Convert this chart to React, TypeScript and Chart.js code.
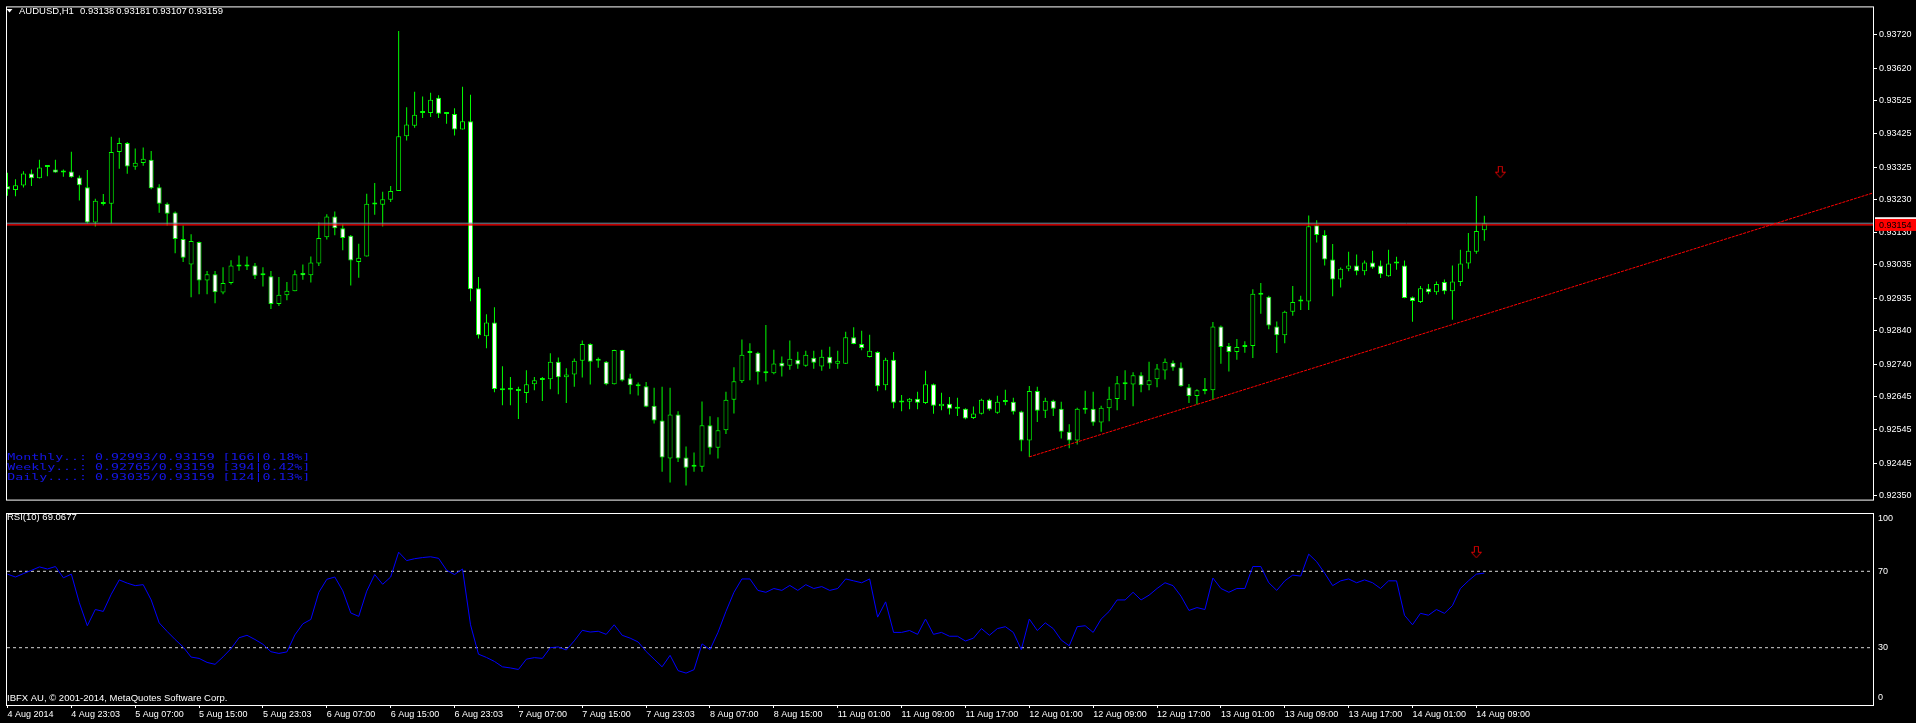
import React, { useEffect, useRef } from "react";
import { Chart, registerables } from "chart.js";

Chart.register(...registerables);

const FONT = "'Liberation Sans', Arial, Helvetica, sans-serif";
const MONO = "'DejaVu Sans Mono', 'Liberation Mono', monospace";

const SYMBOL = "AUDUSD,H1";
const HEADER_OHLC = ["0.93138", "0.93181", "0.93107", "0.93159"];
const INFO_LINES = [
  "Monthly..: 0.92993/0.93159 [166|0.18%]",
  "Weekly...: 0.92765/0.93159 [394|0.42%]",
  "Daily....: 0.93035/0.93159 [124|0.13%]",
];
const RSI_TITLE = "RSI(10) 69.0677";
const COPYRIGHT = "IBFX AU, \u00A9 2001-2014, MetaQuotes Software Corp.";

const OPEN = [
  0.93269, 0.93258, 0.93271, 0.93307, 0.93293, 0.93326, 0.93319, 0.93310, 0.93313, 0.93295,
  0.93266, 0.93161, 0.93216, 0.93217, 0.93371, 0.93398, 0.93327, 0.93338, 0.93348, 0.93266,
  0.93217, 0.93191, 0.93112, 0.93036, 0.93103, 0.92989, 0.93007, 0.92953, 0.92981, 0.93030,
  0.93033, 0.93033, 0.93004, 0.93001, 0.92919, 0.92945, 0.92957, 0.93011, 0.93004, 0.93039,
  0.93117, 0.93179, 0.93144, 0.93122, 0.93044, 0.93060, 0.93215, 0.93214, 0.93229, 0.93255,
  0.93418, 0.93449, 0.93487, 0.93487, 0.93532, 0.93487, 0.93484, 0.93438, 0.93462, 0.92966,
  0.92823, 0.92864, 0.92668, 0.92665, 0.92665, 0.92654, 0.92680, 0.92693, 0.92695, 0.92747,
  0.92701, 0.92709, 0.92750, 0.92800, 0.92750, 0.92747, 0.92680, 0.92782, 0.92698, 0.92680,
  0.92674, 0.92616, 0.92572, 0.92459, 0.92590, 0.92462, 0.92441, 0.92435, 0.92558, 0.92491,
  0.92543, 0.92634, 0.92689, 0.92773, 0.92774, 0.92718, 0.92713, 0.92744, 0.92735, 0.92753,
  0.92735, 0.92759, 0.92733, 0.92762, 0.92741, 0.92741, 0.92820, 0.92800, 0.92761, 0.92776,
  0.92677, 0.92753, 0.92626, 0.92628, 0.92637, 0.92624, 0.92680, 0.92615, 0.92622, 0.92607,
  0.92607, 0.92580, 0.92592, 0.92634, 0.92595, 0.92627, 0.92628, 0.92599, 0.92513, 0.92660,
  0.92601, 0.92631, 0.92607, 0.92539, 0.92513, 0.92604, 0.92607, 0.92566, 0.92609, 0.92636,
  0.92680, 0.92679, 0.92707, 0.92677, 0.92695, 0.92721, 0.92744, 0.92730, 0.92671, 0.92645,
  0.92665, 0.92662, 0.92852, 0.92794, 0.92776, 0.92791, 0.92794, 0.92946, 0.92940, 0.92852,
  0.92826, 0.92896, 0.92926, 0.92926, 0.93153, 0.93124, 0.93051, 0.92992, 0.93024, 0.93033,
  0.93016, 0.93042, 0.93033, 0.93001, 0.93039, 0.93033, 0.92939, 0.92925, 0.92965, 0.92954,
  0.92984, 0.92957, 0.92984, 0.93039, 0.93074, 0.93138,
];
const HIGH = [
  0.93309, 0.93290, 0.93314, 0.93319, 0.93348, 0.93329, 0.93348, 0.93319, 0.93372, 0.93301,
  0.93317, 0.93232, 0.93246, 0.93416, 0.93413, 0.93401, 0.93381, 0.93384, 0.93374, 0.93275,
  0.93221, 0.93194, 0.93152, 0.93126, 0.93105, 0.93017, 0.93017, 0.93028, 0.93049, 0.93063,
  0.93060, 0.93041, 0.93028, 0.93017, 0.92999, 0.92984, 0.93019, 0.93036, 0.93060, 0.93161,
  0.93186, 0.93194, 0.93156, 0.93124, 0.93098, 0.93247, 0.93279, 0.93253, 0.93270, 0.93731,
  0.93504, 0.93550, 0.93536, 0.93547, 0.93540, 0.93488, 0.93501, 0.93565, 0.93541, 0.92999,
  0.92888, 0.92909, 0.92734, 0.92702, 0.92673, 0.92722, 0.92702, 0.92702, 0.92772, 0.92760,
  0.92728, 0.92757, 0.92810, 0.92802, 0.92760, 0.92749, 0.92783, 0.92783, 0.92711, 0.92685,
  0.92687, 0.92670, 0.92673, 0.92670, 0.92600, 0.92495, 0.92477, 0.92629, 0.92585, 0.92582,
  0.92658, 0.92731, 0.92813, 0.92802, 0.92777, 0.92856, 0.92783, 0.92763, 0.92810, 0.92777,
  0.92780, 0.92780, 0.92783, 0.92792, 0.92780, 0.92836, 0.92850, 0.92839, 0.92827, 0.92778,
  0.92759, 0.92776, 0.92648, 0.92639, 0.92658, 0.92720, 0.92682, 0.92655, 0.92642, 0.92640,
  0.92609, 0.92614, 0.92637, 0.92637, 0.92646, 0.92664, 0.92640, 0.92601, 0.92675, 0.92673,
  0.92640, 0.92634, 0.92628, 0.92561, 0.92610, 0.92661, 0.92658, 0.92616, 0.92673, 0.92705,
  0.92722, 0.92716, 0.92716, 0.92747, 0.92740, 0.92757, 0.92751, 0.92745, 0.92681, 0.92665,
  0.92699, 0.92865, 0.92855, 0.92803, 0.92815, 0.92808, 0.92963, 0.92981, 0.92943, 0.92867,
  0.92899, 0.92972, 0.92943, 0.93182, 0.93168, 0.93138, 0.93097, 0.93027, 0.93074, 0.93066,
  0.93048, 0.93077, 0.93048, 0.93080, 0.93059, 0.93048, 0.92941, 0.92972, 0.92978, 0.92986,
  0.92992, 0.93033, 0.93080, 0.93130, 0.93240, 0.93181,
];
const LOW = [
  0.93241, 0.93239, 0.93265, 0.93270, 0.93292, 0.93299, 0.93309, 0.93297, 0.93294, 0.93227,
  0.93158, 0.93149, 0.93212, 0.93158, 0.93321, 0.93306, 0.93318, 0.93330, 0.93260, 0.93190,
  0.93152, 0.93070, 0.93044, 0.92939, 0.92948, 0.92948, 0.92921, 0.92948, 0.92977, 0.93018,
  0.93020, 0.92993, 0.92971, 0.92904, 0.92913, 0.92930, 0.92957, 0.92991, 0.92983, 0.93032,
  0.93111, 0.93123, 0.93079, 0.92974, 0.92997, 0.93060, 0.93184, 0.93149, 0.93222, 0.93255,
  0.93405, 0.93443, 0.93472, 0.93475, 0.93472, 0.93455, 0.93420, 0.93438, 0.92927, 0.92816,
  0.92787, 0.92656, 0.92618, 0.92618, 0.92577, 0.92624, 0.92662, 0.92630, 0.92665, 0.92650,
  0.92624, 0.92673, 0.92700, 0.92679, 0.92729, 0.92677, 0.92679, 0.92688, 0.92650, 0.92647,
  0.92612, 0.92563, 0.92420, 0.92388, 0.92449, 0.92379, 0.92420, 0.92420, 0.92471, 0.92459,
  0.92532, 0.92593, 0.92684, 0.92692, 0.92679, 0.92688, 0.92710, 0.92703, 0.92723, 0.92726,
  0.92732, 0.92726, 0.92720, 0.92726, 0.92726, 0.92740, 0.92799, 0.92781, 0.92760, 0.92659,
  0.92662, 0.92609, 0.92600, 0.92606, 0.92606, 0.92621, 0.92592, 0.92603, 0.92590, 0.92586,
  0.92576, 0.92577, 0.92590, 0.92601, 0.92592, 0.92618, 0.92590, 0.92481, 0.92464, 0.92568,
  0.92580, 0.92586, 0.92519, 0.92490, 0.92501, 0.92592, 0.92557, 0.92539, 0.92570, 0.92603,
  0.92633, 0.92615, 0.92656, 0.92662, 0.92671, 0.92694, 0.92720, 0.92673, 0.92624, 0.92620,
  0.92650, 0.92634, 0.92741, 0.92718, 0.92753, 0.92774, 0.92758, 0.92890, 0.92844, 0.92773,
  0.92802, 0.92884, 0.92901, 0.92901, 0.93102, 0.93033, 0.92942, 0.92968, 0.93016, 0.93004,
  0.93004, 0.93024, 0.92996, 0.93000, 0.93021, 0.92936, 0.92866, 0.92922, 0.92948, 0.92946,
  0.92948, 0.92872, 0.92972, 0.93024, 0.93068, 0.93107,
];
const CLOSE = [
  0.93259, 0.93272, 0.93307, 0.93293, 0.93325, 0.93326, 0.93310, 0.93314, 0.93296, 0.93272,
  0.93161, 0.93226, 0.93220, 0.93371, 0.93398, 0.93328, 0.93339, 0.93351, 0.93263, 0.93217,
  0.93187, 0.93112, 0.93056, 0.93106, 0.92989, 0.93007, 0.92954, 0.92981, 0.93033, 0.93033,
  0.93030, 0.93003, 0.93004, 0.92919, 0.92946, 0.92958, 0.93007, 0.93004, 0.93042, 0.93115,
  0.93179, 0.93144, 0.93115, 0.93048, 0.93056, 0.93217, 0.93216, 0.93230, 0.93255, 0.93418,
  0.93453, 0.93482, 0.93488, 0.93526, 0.93485, 0.93484, 0.93438, 0.93462, 0.92963, 0.92826,
  0.92864, 0.92666, 0.92662, 0.92664, 0.92660, 0.92680, 0.92692, 0.92694, 0.92747, 0.92701,
  0.92709, 0.92750, 0.92800, 0.92747, 0.92750, 0.92680, 0.92782, 0.92691, 0.92677, 0.92674,
  0.92613, 0.92572, 0.92462, 0.92590, 0.92459, 0.92432, 0.92435, 0.92558, 0.92491, 0.92543,
  0.92634, 0.92689, 0.92768, 0.92773, 0.92716, 0.92713, 0.92742, 0.92733, 0.92756, 0.92739,
  0.92768, 0.92744, 0.92762, 0.92742, 0.92750, 0.92820, 0.92800, 0.92788, 0.92780, 0.92674,
  0.92753, 0.92625, 0.92628, 0.92637, 0.92625, 0.92680, 0.92616, 0.92622, 0.92607, 0.92607,
  0.92578, 0.92593, 0.92634, 0.92605, 0.92628, 0.92631, 0.92598, 0.92513, 0.92660, 0.92601,
  0.92631, 0.92607, 0.92539, 0.92513, 0.92607, 0.92607, 0.92566, 0.92610, 0.92637, 0.92683,
  0.92680, 0.92707, 0.92677, 0.92692, 0.92727, 0.92747, 0.92730, 0.92674, 0.92645, 0.92662,
  0.92660, 0.92852, 0.92791, 0.92776, 0.92791, 0.92791, 0.92949, 0.92948, 0.92855, 0.92826,
  0.92896, 0.92925, 0.92928, 0.93150, 0.93124, 0.93051, 0.92992, 0.93024, 0.93033, 0.93016,
  0.93042, 0.93027, 0.93007, 0.93039, 0.93039, 0.92937, 0.92928, 0.92966, 0.92954, 0.92978,
  0.92957, 0.92986, 0.93039, 0.93077, 0.93136, 0.93159,
];

const RSI = [
  68.5, 67, 68.8, 70.5, 72.3, 71.2, 72.5, 66.6, 68.5, 53.5,
  41.5, 50, 49, 58, 65.5, 63.8, 62.5, 63, 55, 43,
  38.5, 34.3, 30.4, 25.1, 24.4, 22.3, 21.3, 25.2, 29.5, 35.2,
  36.5, 34.3, 31.8, 27.9, 27, 27.8, 36.7, 42.5, 44.8, 59,
  65.8, 67, 59.8, 48.2, 46.4, 59.6, 68.3, 63.2, 67, 80,
  75.6, 76.6, 77.2, 77.6, 76.8, 70.6, 68.3, 71.2, 42, 26.6,
  24.9, 22.8, 20, 19.4, 18.6, 24, 24.8, 24.4, 30, 30.4,
  28.8, 33.6, 39.1, 38.2, 38.6, 37, 42, 36.5, 35, 33,
  28, 24, 20, 26, 18, 16.7, 18.5, 32, 29, 38,
  49, 59, 66, 66, 60, 59, 61, 60, 62.6, 60,
  63, 61, 62, 60, 61, 66, 65, 64, 66, 46,
  54, 38, 38, 39, 37, 45, 37, 38, 36, 36,
  33.5, 35, 40, 36.5, 40, 41, 38, 29, 45, 39,
  43, 40, 34, 31, 41, 41.5, 38, 45, 49, 55,
  55, 59, 55, 57.5, 61, 64, 62.5, 57, 49.5, 51,
  50, 66.5, 61, 59, 61, 61, 72.5, 72.5, 64, 60,
  65, 68, 67.5, 79, 75, 69, 62.5, 65, 66, 64,
  65.5, 64, 61, 65, 65, 47, 42, 48, 47, 50,
  48, 52, 61, 65, 68.5, 69.07,
];

const PRICE_TICKS = [
  0.9235, 0.92445, 0.92545, 0.92645, 0.9274, 0.9284, 0.92935, 0.93035,
  0.9313, 0.9323, 0.93325, 0.93425, 0.93525, 0.9362, 0.9372,
];
const TIME_TICK_BARS = [
  0, 8, 16, 24, 32, 40, 48, 56, 64, 72, 80, 88, 96, 104, 112, 120, 128, 136, 144, 152, 160, 168, 176, 184,
];
const TIME_TICK_LABELS = [
  "4 Aug 2014", "4 Aug 23:03", "5 Aug 07:00", "5 Aug 15:00", "5 Aug 23:03", "6 Aug 07:00",
  "6 Aug 15:00", "6 Aug 23:03", "7 Aug 07:00", "7 Aug 15:00", "7 Aug 23:03", "8 Aug 07:00",
  "8 Aug 15:00", "11 Aug 01:00", "11 Aug 09:00", "11 Aug 17:00", "12 Aug 01:00", "12 Aug 09:00",
  "12 Aug 17:00", "13 Aug 01:00", "13 Aug 09:00", "13 Aug 17:00", "14 Aug 01:00", "14 Aug 09:00",
];
const RSI_LEVELS = [70, 30];
const RSI_AXIS_LABELS = [100, 70, 30, 0];

const HLINE_PRICE = 0.93154;
const BID_PRICE = 0.93159;
const TREND_A = { bar: 128, price: 0.92464 };
const TREND_B = { bar: 149, price: 0.9262 };
const PRICE_ARROW = { bar: 187, price: 0.93311 };
const RSI_ARROW = { bar: 184, value: 80 };

// view window (bars) and price range of the panels
const X_MIN = -0.0625;
const X_MAX = 233.6875;
const Y_MIN = 0.92337;
const Y_MAX = 0.93801;

const GREEN = "#00ff00";
const INFO_COLOR = "#1616e8";

function makeArrow(color: string) {
  const c = document.createElement("canvas");
  c.width = 11;
  c.height = 13;
  const g = c.getContext("2d")!;
  g.fillStyle = "#000";
  g.strokeStyle = color;
  g.lineWidth = 1;
  g.beginPath();
  g.moveTo(3.5, 0.5);
  g.lineTo(7.5, 0.5);
  g.lineTo(7.5, 6.5);
  g.lineTo(10.5, 6.5);
  g.lineTo(5.5, 12);
  g.lineTo(0.5, 6.5);
  g.lineTo(3.5, 6.5);
  g.closePath();
  g.fill();
  g.stroke();
  return c;
}

export default function App() {
  const mainRef = useRef<HTMLCanvasElement>(null);
  const rsiRef = useRef<HTMLCanvasElement>(null);

  useEffect(() => {
    const arrow = makeArrow("#dd0000");

    const bodies = OPEN.map((o, i) => ({ x: i, y: [o, CLOSE[i]] }));
    const wicks = LOW.map((l, i) => ({ x: i, y: [l, HIGH[i]] }));
    const bodyColors = OPEN.map((o, i) => (CLOSE[i] >= o ? "#000000" : "#ffffff"));
    const slope = (TREND_B.price - TREND_A.price) / (TREND_B.bar - TREND_A.bar);
    const trendEnd = TREND_A.price + (X_MAX - TREND_A.bar) * slope;

    const mainDecor = {
      id: "mainDecor",
      afterDraw(chart: any) {
        const { ctx, chartArea: a, scales } = chart;
        const y = scales.y;
        ctx.save();
        ctx.strokeStyle = "#ffffff";
        ctx.lineWidth = 1;
        ctx.strokeRect(a.left - 0.5, a.top - 0.5, a.right - a.left + 1, a.bottom - a.top + 1);
        // header
        ctx.fillStyle = "#ffffff";
        ctx.beginPath();
        ctx.moveTo(6.5, 9);
        ctx.lineTo(12.5, 9);
        ctx.lineTo(9.5, 12.5);
        ctx.closePath();
        ctx.fill();
        ctx.font = `9.5px ${FONT}`;
        ctx.textBaseline = "middle";
        ctx.textAlign = "left";
        ctx.fillText(SYMBOL, 19, 11);
        HEADER_OHLC.forEach((t, i) => ctx.fillText(t, 80 + i * 36.2, 11));
        // info block
        ctx.fillStyle = INFO_COLOR;
        ctx.font = `9.5px ${MONO}`;
        INFO_LINES.forEach((t, i) => {
          const w = ctx.measureText(t).width;
          ctx.save();
          ctx.translate(7.3, 457.5 + i * 10);
          ctx.scale(303 / w, 1);
          ctx.fillText(t, 0, 0);
          ctx.restore();
        });
        // price labels on axis
        const yb = y.getPixelForValue(BID_PRICE);
        const yh = y.getPixelForValue(HLINE_PRICE);
        ctx.fillStyle = "#ffffff";
        ctx.fillRect(a.right + 2, yb - 6, chart.width - a.right - 2, 12);
        ctx.fillStyle = "#ff0000";
        ctx.fillRect(a.right + 2, yh - 6, chart.width - a.right - 2, 12);
        ctx.fillStyle = "#000000";
        ctx.font = `9px ${FONT}`;
        ctx.fillText(HLINE_PRICE.toFixed(5), a.right + 6, yh + 0.5);
        ctx.restore();
      },
    };

    const main = new Chart(mainRef.current!, {
      type: "bar",
      data: {
        datasets: [
          {
            type: "line",
            data: [{ x: PRICE_ARROW.bar, y: PRICE_ARROW.price }],
            showLine: false,
            pointStyle: arrow,
            pointRadius: 6,
            order: -5,
          } as any,
          {
            type: "line",
            data: [
              { x: TREND_A.bar, y: TREND_A.price },
              { x: X_MAX, y: trendEnd },
            ],
            borderColor: "#ff0000",
            borderWidth: 1,
            borderDash: [3, 1],
            pointRadius: 0,
            order: -4,
          } as any,
          {
            type: "line",
            data: [
              { x: X_MIN, y: HLINE_PRICE },
              { x: X_MAX, y: HLINE_PRICE },
            ],
            borderColor: "#ff0000",
            borderWidth: 1.2,
            pointRadius: 0,
            order: -3,
          } as any,
          {
            type: "line",
            data: [
              { x: X_MIN, y: BID_PRICE },
              { x: X_MAX, y: BID_PRICE },
            ],
            borderColor: "#778899",
            borderWidth: 1,
            pointRadius: 0,
            order: -2,
          } as any,
          {
            type: "bar",
            data: bodies,
            backgroundColor: bodyColors,
            borderColor: GREEN,
            borderWidth: 1,
            borderSkipped: false,
            barThickness: 5,
            minBarLength: 2,
            grouped: false,
            inflateAmount: 0,
            order: 0,
          } as any,
          {
            type: "bar",
            data: wicks,
            backgroundColor: GREEN,
            borderWidth: 0,
            barThickness: 1,
            grouped: false,
            inflateAmount: 0,
            order: 1,
          } as any,
        ],
      },
      options: {
        responsive: false,
        animation: false,
        devicePixelRatio: 1,
        events: [],
        layout: { padding: { left: 3, top: 3, right: 0, bottom: 2 } },
        plugins: { legend: { display: false }, tooltip: { enabled: false } },
        scales: {
          x: {
            type: "linear",
            min: X_MIN,
            max: X_MAX,
            offset: false,
            display: false,
          },
          y: {
            type: "linear",
            position: "right",
            min: Y_MIN,
            max: Y_MAX,
            beginAtZero: false,
            afterBuildTicks: (s: any) => {
              s.ticks = PRICE_TICKS.map((v) => ({ value: v }));
            },
            afterFit: (s: any) => {
              s.width = 43;
            },
            ticks: {
              color: "#ffffff",
              font: { family: FONT, size: 9 },
              padding: 2,
              callback: (v: any) => Number(v).toFixed(5),
            },
            grid: {
              display: true,
              drawOnChartArea: false,
              drawTicks: true,
              tickLength: 4,
              tickColor: "#ffffff",
              color: "#ffffff",
            },
            border: { display: true, color: "#ffffff", width: 1 },
          },
        },
      } as any,
      plugins: [mainDecor],
    });

    const rsiDecor = {
      id: "rsiDecor",
      afterDraw(chart: any) {
        const { ctx, chartArea: a, scales } = chart;
        const y = scales.y;
        ctx.save();
        ctx.strokeStyle = "#ffffff";
        ctx.lineWidth = 1;
        ctx.strokeRect(a.left - 0.5, a.top - 0.5, a.right - a.left + 1, a.bottom - a.top + 1);
        ctx.fillStyle = "#ffffff";
        ctx.textBaseline = "middle";
        ctx.textAlign = "left";
        ctx.font = `9.5px ${FONT}`;
        ctx.fillText(RSI_TITLE, 7, 10);
        ctx.fillText(COPYRIGHT, 7, 191);
        ctx.font = `9px ${FONT}`;
        RSI_AXIS_LABELS.forEach((v) => {
          let py = y.getPixelForValue(v);
          py = Math.max(a.top + 5, Math.min(a.bottom - 7, py));
          ctx.fillText(String(v), a.right + 5, py);
        });
        ctx.restore();
      },
    };

    const rsi = new Chart(rsiRef.current!, {
      type: "line",
      data: {
        datasets: [
          {
            data: [{ x: RSI_ARROW.bar, y: RSI_ARROW.value }],
            showLine: false,
            pointStyle: arrow,
            pointRadius: 6,
            order: -1,
          } as any,
          {
            data: RSI.map((v, i) => ({ x: i, y: v })),
            borderColor: "#0000ff",
            borderWidth: 1,
            pointRadius: 0,
            tension: 0,
            order: 0,
          },
          ...RSI_LEVELS.map((lv) => ({
            data: [
              { x: X_MIN, y: lv },
              { x: X_MAX, y: lv },
            ],
            borderColor: "#d8d8d8",
            borderWidth: 1,
            borderDash: [3, 3],
            pointRadius: 0,
            order: 1,
          })),
        ],
      },
      options: {
        responsive: false,
        animation: false,
        devicePixelRatio: 1,
        events: [],
        layout: { padding: { left: 3, top: 2, right: 0, bottom: 0 } },
        plugins: { legend: { display: false }, tooltip: { enabled: false } },
        scales: {
          x: {
            type: "linear",
            min: X_MIN,
            max: X_MAX,
            offset: false,
            afterBuildTicks: (s: any) => {
              s.ticks = TIME_TICK_BARS.map((v) => ({ value: v }));
            },
            afterFit: (s: any) => {
              s.height = 18;
            },
            ticks: {
              color: "#ffffff",
              font: { family: FONT, size: 9 },
              align: "start",
              maxRotation: 0,
              minRotation: 0,
              autoSkip: false,
              padding: 1,
              callback: (v: any) => {
                const idx = TIME_TICK_BARS.indexOf(Number(v));
                return idx >= 0 ? TIME_TICK_LABELS[idx] : "";
              },
            },
            grid: {
              display: true,
              drawOnChartArea: false,
              drawTicks: true,
              tickLength: 3,
              tickColor: "#ffffff",
              color: "#ffffff",
            },
            border: { display: true, color: "#ffffff", width: 1 },
          },
          y: {
            type: "linear",
            position: "right",
            min: 0,
            max: 100,
            afterFit: (s: any) => {
              s.width = 43;
            },
            ticks: { display: false },
            grid: { display: false },
            border: { display: true, color: "#ffffff", width: 1 },
          },
        },
      } as any,
      plugins: [rsiDecor],
    });

    return () => {
      main.destroy();
      rsi.destroy();
    };
  }, []);

  return (
    <div
      style={{
        position: "fixed",
        left: 0,
        top: 0,
        width: 1916,
        height: 723,
        background: "#000000",
        overflow: "hidden",
      }}
    >
      <canvas
        ref={mainRef}
        width={1916}
        height={507}
        style={{ position: "absolute", left: 0, top: 0, width: 1916, height: 507 }}
      />
      <canvas
        ref={rsiRef}
        width={1916}
        height={216}
        style={{ position: "absolute", left: 0, top: 507, width: 1916, height: 216 }}
      />
    </div>
  );
}
